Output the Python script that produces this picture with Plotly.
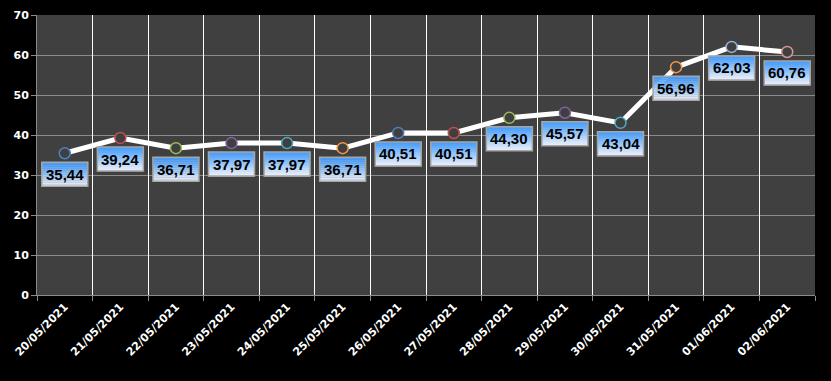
import plotly.graph_objects as go

dates = ["20/05/2021", "21/05/2021", "22/05/2021", "23/05/2021", "24/05/2021",
         "25/05/2021", "26/05/2021", "27/05/2021", "28/05/2021", "29/05/2021",
         "30/05/2021", "31/05/2021", "01/06/2021", "02/06/2021"]
values = [35.44, 39.24, 36.71, 37.97, 37.97, 36.71, 40.51, 40.51, 44.30, 45.57,
          43.04, 56.96, 62.03, 60.76]
marker_colors = ["#4f81bd", "#c0504d", "#9bbb59", "#8064a2", "#4bacc6", "#f79646",
                 "#4f81bd", "#c0504d", "#9bbb59", "#8064a2", "#4bacc6", "#f79646",
                 "#95b3d7", "#d99694"]
y_ticks = [0, 10, 20, 30, 40, 50, 60, 70]

labels = [f"{v:.2f}".replace(".", ",") for v in values]

fig = go.Figure()

# vertical white gridlines at category boundaries via a category axis
fig.add_trace(go.Scatter(x=dates, y=[None] * len(dates), xaxis="x2", showlegend=False,
                         hoverinfo="skip"))

fig.add_trace(go.Scatter(
    x=list(range(len(dates))), y=values, mode="lines+markers",
    line=dict(color="white", width=5),
    marker=dict(size=11, color="#3f3f3f", line=dict(color=marker_colors, width=1.5)),
    hoverinfo="skip", showlegend=False,
))

# gradient label boxes anchored to each point (pixel offsets)
grad = ["#4a9efc", "#55a4fc", "#62abfb", "#70b2fb", "#7fbafa", "#8ec2fa",
        "#9dcafa", "#add1f9", "#bdd9f9", "#cde0f9", "#dbe6f9", "#e6eafa"]
box_w, box_h, off = 46, 24, 21
shapes = []
n = len(grad)
for i, v in enumerate(values):
    top = -off + box_h / 2
    for k, c in enumerate(grad):
        shapes.append(dict(
            type="rect", xref="x", yref="y", xsizemode="pixel", ysizemode="pixel",
            xanchor=i, yanchor=v,
            x0=-box_w / 2, x1=box_w / 2,
            y0=top - box_h * (k + 1) / n - 0.3, y1=top - box_h * k / n,
            fillcolor=c, line=dict(width=0), layer="above",
        ))
    shapes.append(dict(
        type="rect", xref="x", yref="y", xsizemode="pixel", ysizemode="pixel",
        xanchor=i, yanchor=v, x0=-box_w / 2, x1=box_w / 2,
        y0=top - box_h, y1=top,
        fillcolor="rgba(0,0,0,0)", line=dict(width=1.5, color="#a6a6a6"), layer="above",
    ))

annotations = [dict(x=i, y=v, xref="x", yref="y", text=t, showarrow=False,
                    yshift=-off, font=dict(family="Liberation Sans", size=15, color="black",
                                           weight="bold"))
               for i, (v, t) in enumerate(zip(values, labels))]

fig.update_layout(
    width=831, height=381,
    margin=dict(l=37, r=16, t=15, b=86),
    paper_bgcolor="black", plot_bgcolor="#404040",
    shapes=shapes, annotations=annotations,
    xaxis=dict(
        tickmode="array", tickvals=list(range(len(dates))), ticktext=dates,
        range=[-0.5, len(dates) - 0.5], automargin=False,
        tickangle=-45, tickfont=dict(family="DejaVu Sans", size=11, color="white", weight="bold"),
        showgrid=False, showline=True, linecolor="#8c8c8c", linewidth=1,
        ticks="", zeroline=False,
    ),
    xaxis2=dict(
        type="category", overlaying="x", side="bottom", tickson="boundaries",
        showgrid=True, gridcolor="white", gridwidth=1, showticklabels=False,
        ticks="outside", ticklen=5, tickcolor="#8c8c8c", range=[-0.5, len(dates) - 0.5],
        automargin=False, layer="below traces",
    ),
    yaxis=dict(
        range=[0, 70], tickvals=y_ticks, automargin=False,
        tickfont=dict(family="DejaVu Sans", size=11, color="white", weight="bold"),
        showgrid=True, gridcolor="#8c8c8c", gridwidth=1,
        showline=True, linecolor="#8c8c8c", ticks="outside", ticklen=5, tickcolor="#8c8c8c",
        zeroline=False,
    ),
)

fig.write_html("out.html", config={"displayModeBar": False, "staticPlot": True},
               post_script="document.body.style.margin='0px';")
